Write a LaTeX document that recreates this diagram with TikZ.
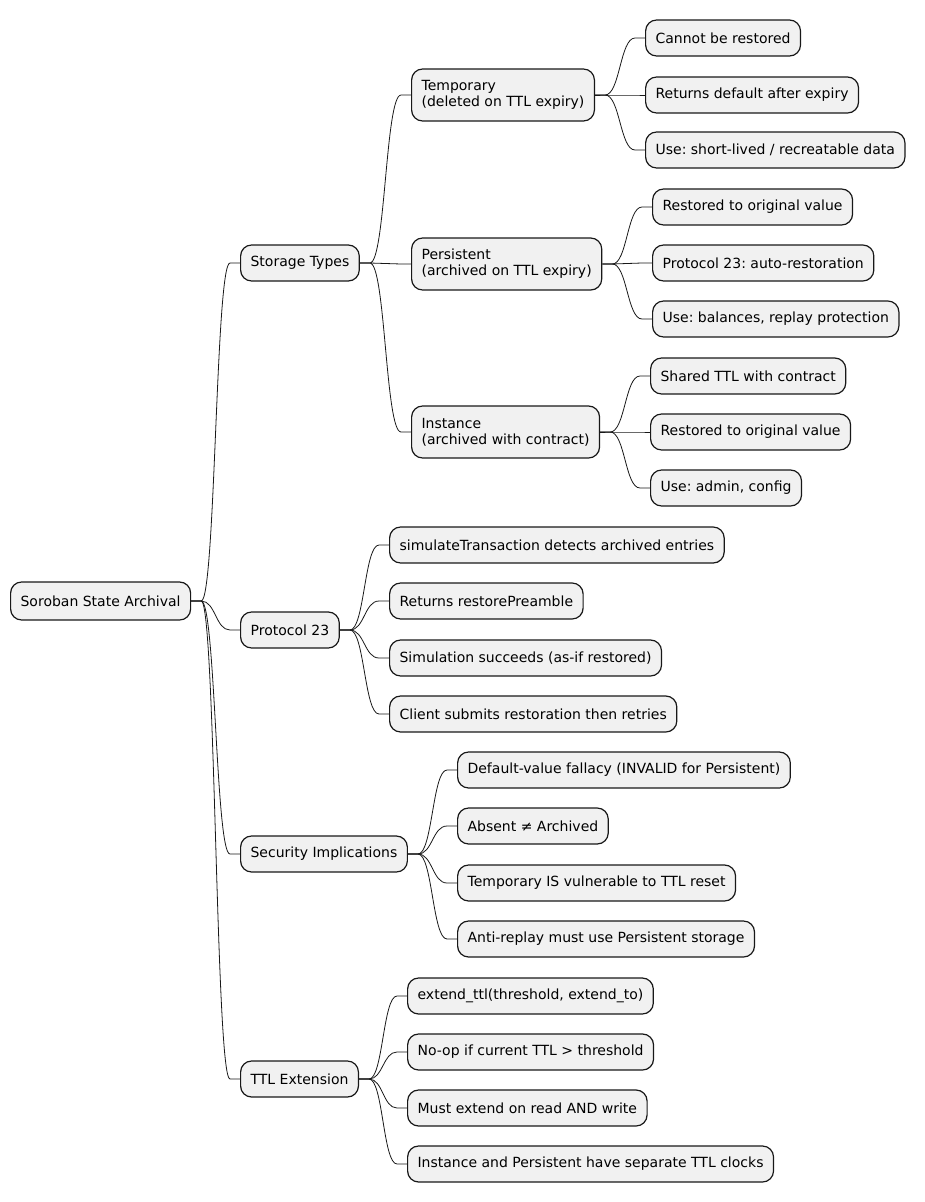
\documentclass[tikz,border=0pt]{standalone}
\usepackage{fontspec}
\setmainfont{DejaVu Sans}
\usetikzlibrary{calc}
\frenchspacing
\definecolor{boxfill}{HTML}{F1F1F1}
\definecolor{boxline}{HTML}{181818}
\tikzset{
  mm/.style={draw=boxline, fill=boxfill, line width=1.2pt, rounded corners=11pt,
    anchor=west, inner xsep=10pt, inner ysep=0pt, minimum height=36pt,
    align=left, font=\fontsize{14}{16}\selectfont\frenchspacing},
  mmtwo/.style={mm, minimum height=52pt},
  conn/.style={draw=boxline, line width=0.8pt},
}
\newcommand\mmlink[2]{%
  \draw[conn] let \p1=(#1.east), \p2=(#2.west) in
    (\p1) -- (\x1+10pt,\y1)
    .. controls ({(\x1+\x2)/2},\y1) and ({(\x1+\x2)/2},\y2) ..
    (\x2-10pt,\y2) -- (\p2);}
\begin{document}
\begin{tikzpicture}[x=1pt,y=1pt]
\useasboundingbox (0,0) rectangle (924,-1202);
% root
\node[mm, minimum height=38pt] (root) at (10,-601) {Soroban State Archival};
% level 1
\node[mm] (st) at (240,-263) {Storage Types};
\node[mm] (p23) at (240,-630) {Protocol 23};
\node[mm] (sec) at (240,-854) {Security Implications};
\node[mm] (ttl) at (240,-1079) {TTL Extension};
% level 2
\node[mmtwo] (tmp) at (411,-95) {Temporary\\(deleted on TTL expiry)};
\node[mmtwo] (per) at (411,-264) {Persistent\\(archived on TTL expiry)};
\node[mmtwo] (ins) at (411,-432) {Instance\\(archived with contract)};
% temporary children
\node[mm] (t1) at (645,-38) {Cannot be restored};
\node[mm] (t2) at (645,-95) {Returns default after expiry};
\node[mm] (t3) at (645,-150) {Use: short-lived / recreatable data};
% persistent children
\node[mm] (q1) at (652,-207) {Restored to original value};
\node[mm] (q2) at (652,-263) {Protocol 23: auto-restoration};
\node[mm] (q3) at (652,-319) {Use: balances, replay protection};
% instance children
\node[mm] (i1) at (650,-376) {Shared TTL with contract};
\node[mm] (i2) at (650,-432) {Restored to original value};
\node[mm] (i3) at (650,-488) {Use: admin, config};
% protocol 23 children
\node[mm] (p1) at (389,-545) {simulateTransaction detects archived entries};
\node[mm] (p2) at (389,-601) {Returns restorePreamble};
\node[mm] (p3) at (389,-658) {Simulation succeeds (as-if restored)};
\node[mm] (p4) at (389,-714) {Client submits restoration then retries};
% security children
\node[mm] (s1) at (457,-770) {Default-value fallacy (INVALID for Persistent)};
\node[mm] (s2) at (457,-826) {Absent ≠ Archived};
\node[mm] (s3) at (457,-883) {Temporary IS vulnerable to TTL reset};
\node[mm] (s4) at (457,-939) {Anti-replay must use Persistent storage};
% ttl children
\node[mm] (e1) at (407,-996) {extend\_ttl(threshold, extend\_to)};
\node[mm] (e2) at (407,-1052) {No-op if current TTL > threshold};
\node[mm] (e3) at (407,-1108) {Must extend on read AND write};
\node[mm] (e4) at (407,-1164) {Instance and Persistent have separate TTL clocks};
% connectors
\mmlink{root}{st}\mmlink{root}{p23}\mmlink{root}{sec}\mmlink{root}{ttl}
\mmlink{st}{tmp}\mmlink{st}{per}\mmlink{st}{ins}
\mmlink{tmp}{t1}\mmlink{tmp}{t2}\mmlink{tmp}{t3}
\mmlink{per}{q1}\mmlink{per}{q2}\mmlink{per}{q3}
\mmlink{ins}{i1}\mmlink{ins}{i2}\mmlink{ins}{i3}
\mmlink{p23}{p1}\mmlink{p23}{p2}\mmlink{p23}{p3}\mmlink{p23}{p4}
\mmlink{sec}{s1}\mmlink{sec}{s2}\mmlink{sec}{s3}\mmlink{sec}{s4}
\mmlink{ttl}{e1}\mmlink{ttl}{e2}\mmlink{ttl}{e3}\mmlink{ttl}{e4}
\end{tikzpicture}
\end{document}
